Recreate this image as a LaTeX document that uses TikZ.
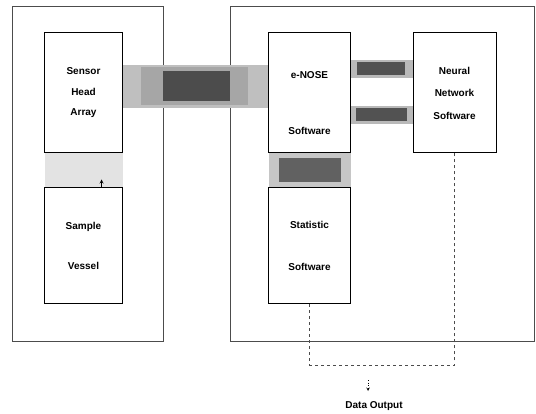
\documentclass[tikz,border=0pt]{standalone}
\usepackage{fontspec}
\setmainfont{Liberation Sans}
\usepackage{tikz}

\begin{document}
\begin{tikzpicture}[x=1pt,y=1pt,
		frame/.style={draw=black!70,line width=0.7pt,minimum width=#1},
		box/.style={draw,line width=1pt,align=center,font=\bfseries\fontsize{10}{20.5}\selectfont},
		band/.style={draw=gray!50,line cap=butt},
		core/.style={draw=black!70,line cap=butt},
		txt/.style={font=\bfseries\fontsize{10}{12}\selectfont}]
	\useasboundingbox (0,0) rectangle (536,-414);
	
	% Draw the two housings
	\node[frame=151pt,minimum height=335pt] (lhs) at (87.5,-173.5) {};
	\node[frame=304pt,minimum height=335pt] (rhs) at (382,-173.5) {};
	
	% Place the blocks
	\node[box,minimum width=78pt,minimum height=120pt] (sensor) at (83.5,-93) {Sensor\\Head\\Array};
	\node[box,minimum width=78pt,minimum height=116pt,font=\bfseries\fontsize{10}{40}\selectfont] (sample) at (83.5,-246) {Sample\\Vessel};
	\node[box,minimum width=82pt,minimum height=120pt,
		label={[txt,align=center,yshift=-10pt,font=\bfseries\fontsize{10}{56}\selectfont]center:e-NOSE\\Software}] (enose) at (309.5,-93) {};
	\node[box,minimum width=82pt,minimum height=116pt,font=\bfseries\fontsize{10}{42}\selectfont] (stat) at (309.5,-246) {Statistic\\Software};
	\node[box,minimum width=83pt,minimum height=120pt,font=\bfseries\fontsize{10}{22.5}\selectfont] (neural) at (454.5,-93) {Neural\\Network\\Software};
	
	% Draw the links between blocks
	\draw[band,line width=43pt] ([yshift=6.5pt]sensor.east) -- ([yshift=6.5pt]enose.west);
	\draw[band,draw=gray!70,line width=38pt] ([xshift=18pt,yshift=6.5pt]sensor.east) -- ([xshift=-20pt,yshift=6.5pt]enose.west);
	\draw[core,line width=30pt] ([yshift=6.5pt]sensor.east -| lhs.east) -- ([yshift=6.5pt]enose.west -| rhs.west);
	\draw[band,draw=gray!22,line width=78pt] (sensor.south) -- (sensor.south |- sample.north);
	\draw[-stealth,line width=0.8pt] ([xshift=18pt]sample.north) -- ([xshift=18pt,yshift=-26pt]sensor.south);
	\draw[band,draw=gray!45,line width=82pt] (enose.south) -- (enose.south |- stat.north);
	\draw[core,draw=black!62,line width=62pt] ([yshift=-5pt]enose.south) -- ([yshift=5pt]enose.south |- stat.north);
	\draw[band,draw=gray!55,line width=18pt] ([yshift=24pt]enose.east) -- ([yshift=24pt]neural.west);
	\draw[core,draw=black!68,line width=13pt] ([xshift=6pt,yshift=24pt]enose.east) -- ([xshift=-8pt,yshift=24pt]neural.west);
	\draw[band,draw=gray!55,line width=18pt] ([yshift=-22pt]enose.east) -- ([yshift=-22pt]neural.west);
	\draw[core,draw=black!68,line width=13pt] ([xshift=5pt,yshift=-22pt]enose.east) -- ([xshift=-6pt,yshift=-22pt]neural.west);
	
	% Draw the output path
	\coordinate (join) at (454.5,-365);
	\draw[dashed,line width=0.6pt,black!70] (stat.south) |- (join) -- (neural.south);
	\coordinate (tap) at (368,-380);
	\coordinate (tip) at (368,-391);
	\draw[dotted,-stealth,line width=0.6pt] (tap) -- (tip);
	\node[txt] (out) at (374,-406) {Data Output};
\end{tikzpicture}
\end{document}
